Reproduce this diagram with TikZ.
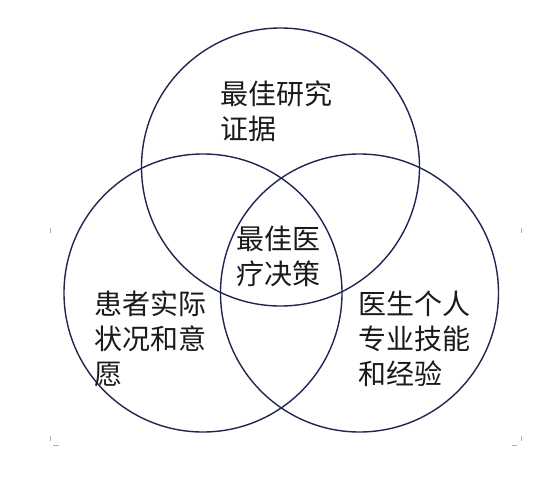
\documentclass[tikz,border=0pt]{standalone}
\usepackage{fontspec}
\newfontfamily\cjk{Noto Sans CJK SC}
\definecolor{ringcol}{HTML}{1F2650}
\definecolor{markcol}{HTML}{B0B0B0}
\definecolor{txtcol}{HTML}{1A1A1A}
\tikzset{
  ring/.style={draw=ringcol, line width=1.4pt},
  lbl/.style={inner sep=0pt, anchor=base west, align=left, text=txtcol,
    font=\cjk\fontsize{28}{35}\selectfont},
  cropmark/.style={draw=markcol, line width=0.8pt}
}
\begin{document}
\begin{tikzpicture}[x=1pt,y=-1pt]
\useasboundingbox (0,0) rectangle (552,477);
\fill[white] (0,0) rectangle (552,477);
% circles
\node[ring, circle, minimum size=278pt, inner sep=0pt] (top) at (280.5,167) {};
\node[ring, circle, minimum size=278pt, inner sep=0pt] (left) at (203,293) {};
\node[ring, circle, minimum size=278pt, inner sep=0pt] (right) at (359.5,293) {};
% labels (anchored at baseline of last line)
\node[lbl] (ttop) at (220.5,139) {最佳研究\\证据};
\node[lbl] (tmid) at (236,284.5) {最佳医\\疗决策};
\node[lbl] (tleft) at (94,384) {患者实际\\状况和意\\愿};
\node[lbl] (tright) at (358,384) {医生个人\\专业技能\\和经验};
% corner marks
\coordinate (m1a) at (50,228); \coordinate (m1b) at (50,233);
\coordinate (m2a) at (50,436); \coordinate (m2b) at (50,441);
\coordinate (m3a) at (53,445); \coordinate (m3b) at (59,445);
\coordinate (m4a) at (521,228); \coordinate (m4b) at (521,233);
\coordinate (m5a) at (521,436); \coordinate (m5b) at (521,441);
\coordinate (m6a) at (512,445); \coordinate (m6b) at (517,445);
\draw[cropmark] (m1a) -- (m1b);
\draw[cropmark] (m2a) -- (m2b);
\draw[cropmark] (m3a) -- (m3b);
\draw[cropmark] (m4a) -- (m4b);
\draw[cropmark] (m5a) -- (m5b);
\draw[cropmark] (m6a) -- (m6b);
\end{tikzpicture}
\end{document}
